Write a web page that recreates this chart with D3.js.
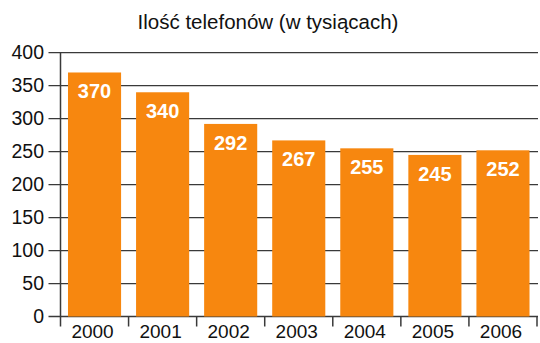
<!DOCTYPE html>
<html>
  <head>
    <meta charset="utf-8"/>
    <style>
body {
  margin: 0;
  background: #fff;
}
svg {
  display: block;
  font-family: "Liberation Sans", Arial, sans-serif;
}
    </style>
  </head>
  <body>
    <svg id="chart" width="540" height="343"></svg>
    <script src="https://cdnjs.cloudflare.com/ajax/libs/d3/7.8.5/d3.min.js"></script>
    <script>
const years = ["2000", "2001", "2002", "2003", "2004", "2005", "2006"];
const phones = [370, 340, 292, 267, 255, 245, 252];
const yTicks = [0, 50, 100, 150, 200, 250, 300, 350, 400];
const title = "Ilość telefonów (w tysiącach)";

const plotL = 60.5, plotR = 537, plotT = 52.7, plotB = 316.5;
const svg = d3.select("#chart");

const x = d3.scaleBand()
    .domain(years)
    .range([plotL, plotR])
    .paddingInner(0.22)
    .paddingOuter(0.11);
const y = d3.scaleLinear()
    .domain([0, 400])
    .range([plotB, plotT]);

svg.append("text")
    .attr("x", 268)
    .attr("y", 29)
    .attr("text-anchor", "middle")
    .attr("font-size", 20.5)
    .attr("fill", "#111")
    .text(title);

// gridlines behind bars
svg.append("g")
  .selectAll("line")
  .data(yTicks)
  .join("line")
    .attr("x1", plotL - 12)
    .attr("x2", 538)
    .attr("y1", d => y(d))
    .attr("y2", d => y(d))
    .attr("stroke", "#3a3a3a")
    .attr("stroke-width", 1.3);

svg.append("g")
  .selectAll("text")
  .data(yTicks)
  .join("text")
    .attr("x", 44)
    .attr("y", d => y(d) + 6.5)
    .attr("text-anchor", "end")
    .attr("font-size", 19.5)
    .attr("fill", "#111")
    .text(d => d);

const bars = svg.append("g")
  .selectAll("g")
  .data(years.map((yr, i) => ({ yr, v: phones[i] })))
  .join("g");

bars.append("rect")
    .attr("x", d => x(d.yr))
    .attr("width", x.bandwidth())
    .attr("y", d => y(d.v))
    .attr("height", d => y(0) - y(d.v))
    .attr("fill", "#f7870f");

bars.append("text")
    .attr("x", d => x(d.yr) + x.bandwidth() / 2)
    .attr("y", d => y(d.v) + 26)
    .attr("text-anchor", "middle")
    .attr("font-size", 20)
    .attr("font-weight", "bold")
    .attr("fill", "#fff")
    .text(d => d.v);

// axes
svg.append("line")
    .attr("x1", plotL).attr("x2", plotL)
    .attr("y1", plotT).attr("y2", plotB + 10)
    .attr("stroke", "#3a3a3a")
    .attr("stroke-width", 1.5);

const bounds = years.slice(1).map(d => x(d) - x.step() * x.paddingInner() / 2).concat([plotR]);
svg.append("g")
  .selectAll("line")
  .data(bounds)
  .join("line")
    .attr("x1", d => d).attr("x2", d => d)
    .attr("y1", plotB).attr("y2", plotB + 10)
    .attr("stroke", "#3a3a3a")
    .attr("stroke-width", 1.5);

svg.append("g")
  .selectAll("text")
  .data(years)
  .join("text")
    .attr("x", d => x(d) + x.bandwidth() / 2 - 2)
    .attr("y", 338)
    .attr("text-anchor", "middle")
    .attr("font-size", 19)
    .attr("fill", "#111")
    .text(d => d);
    </script>
  </body>
</html>
